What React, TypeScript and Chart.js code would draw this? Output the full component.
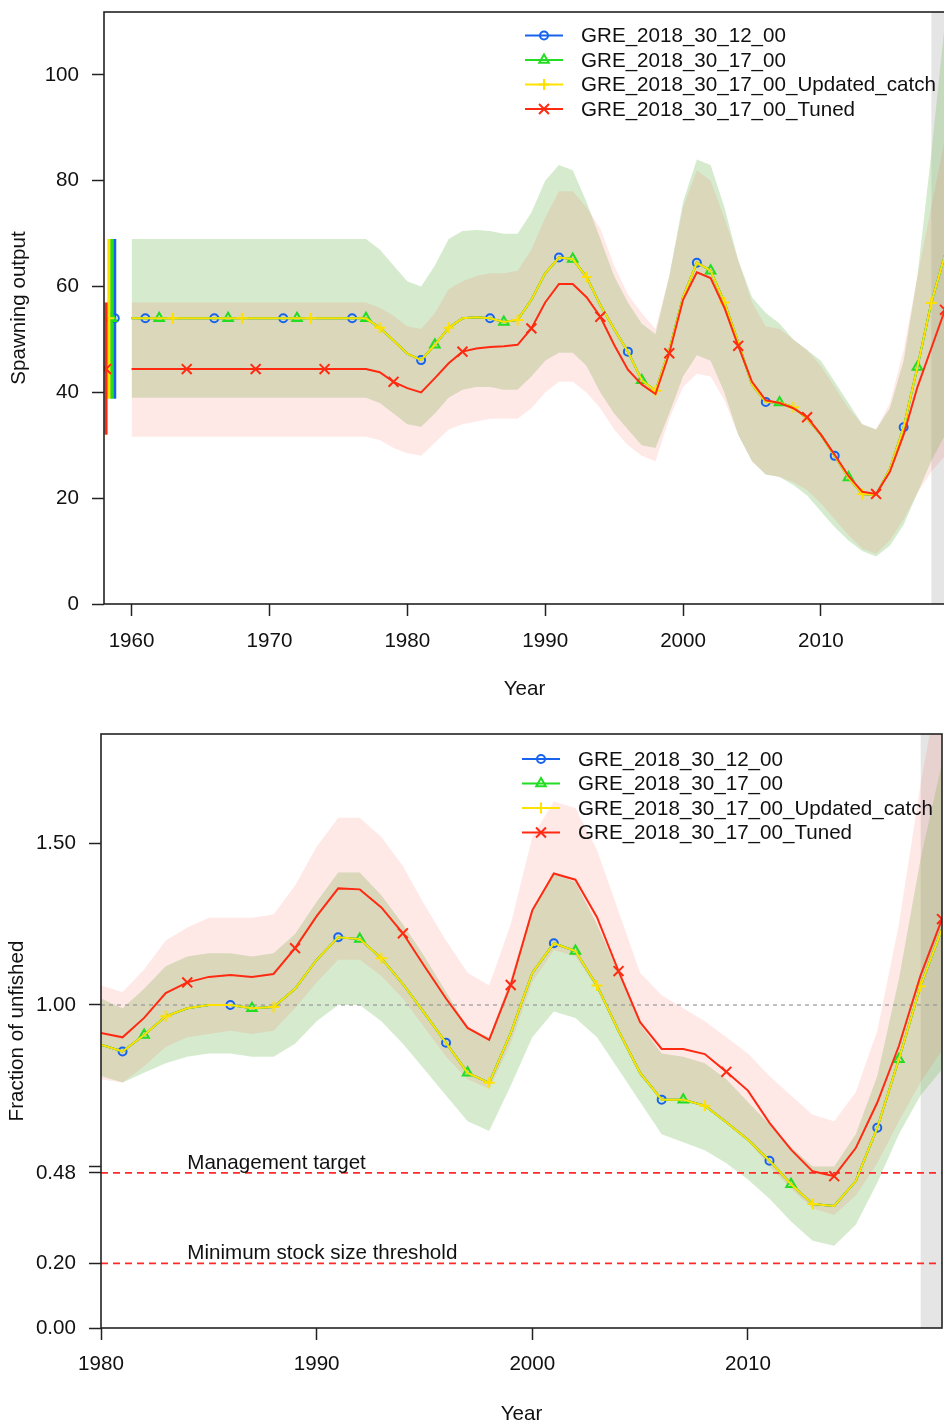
import React, { useEffect, useRef } from 'react';
import { Chart, registerables } from 'chart.js';

Chart.register(...registerables);

const FONT_FAMILY = '"Liberation Sans", Arial, Helvetica, sans-serif';
const FONT_SIZE = 20.6;
const TEXT_COLOR = '#111111';
const AXIS_COLOR = '#222222';

const SERIES_LABELS = [
  'GRE_2018_30_12_00',
  'GRE_2018_30_17_00',
  'GRE_2018_30_17_00_Updated_catch',
  'GRE_2018_30_17_00_Tuned',
];
const SERIES_COLORS = ['#1763ee', '#22dd22', '#ffe100', '#ff2a12'];
const SERIES_BANDS = ['rgba(23,99,238,0.1)', 'rgba(34,221,34,0.1)', 'rgba(255,225,0,0.1)', 'rgba(255,42,18,0.1)'];
const SERIES_MARKERS = ['circle', 'triangle', 'cross', 'crossRot'];
const MARKER_RADIUS = [4, 5.5, 5.5, 7];

// ---------------- Spawning output (top) ----------------
const spawnYears = [
  1960, 1961, 1962, 1963, 1964, 1965, 1966, 1967, 1968, 1969,
  1970, 1971, 1972, 1973, 1974, 1975, 1976, 1977, 1978, 1979,
  1980, 1981, 1982, 1983, 1984, 1985, 1986, 1987, 1988, 1989,
  1990, 1991, 1992, 1993, 1994, 1995, 1996, 1997, 1998, 1999,
  2000, 2001, 2002, 2003, 2004, 2005, 2006, 2007, 2008, 2009,
  2010, 2011, 2012, 2013, 2014, 2015, 2016, 2017, 2018, 2019,
];
const spawnBase = [
  54.0, 54.0, 54.0, 54.0, 54.0, 54.0, 54.0, 54.0, 54.0, 54.0,
  54.0, 54.0, 54.0, 54.0, 54.0, 54.0, 54.0, 54.0, 52.2, 49.8,
  47.3, 46.1, 49.0, 52.2, 54.0, 54.2, 54.0, 53.3, 53.7, 57.5,
  62.5, 65.5, 65.2, 61.8, 56.5, 52.0, 47.7, 42.3, 40.3, 48.0,
  58.0, 64.5, 63.0, 57.0, 49.5, 41.5, 38.2, 38.1, 37.2, 35.0,
  32.0, 28.0, 23.9, 20.8, 20.6, 25.5, 33.4, 44.8, 56.9, 66.0,
];
const spawnTuned = [
  44.4, 44.4, 44.4, 44.4, 44.4, 44.4, 44.4, 44.4, 44.4, 44.4,
  44.4, 44.4, 44.4, 44.4, 44.4, 44.4, 44.4, 44.4, 43.8, 42.0,
  40.8, 40.0, 42.7, 45.5, 47.7, 48.3, 48.6, 48.7, 49.0, 52.1,
  57.0, 60.5, 60.5, 58.0, 54.3, 49.0, 44.3, 41.5, 39.7, 47.4,
  57.5, 62.7, 61.6, 56.0, 48.8, 42.0, 38.5, 38.0, 37.0, 35.3,
  32.0, 28.2, 24.2, 21.2, 20.8, 25.0, 32.0, 41.0, 48.3, 55.6,
];
const spawnBaseLow = [
  39, 39, 39, 39, 39, 39, 39, 39, 39, 39,
  39, 39, 39, 39, 39, 39, 39, 39, 38, 36,
  34, 33.5, 36, 39, 40.5, 41, 41, 40.5, 40.5, 43,
  46, 47.5, 47.5, 45, 40, 36, 33, 30, 29.5, 36,
  43, 47, 46, 40, 32, 27, 24.5, 24, 22.5, 20.5,
  17.5, 14.5, 12, 10, 9, 11, 15, 21, 27, 32,
];
const spawnBaseHigh = [
  69, 69, 69, 69, 69, 69, 69, 69, 69, 69,
  69, 69, 69, 69, 69, 69, 69, 69, 67, 64,
  61, 60, 64, 69, 70.5, 70.7, 70.5, 70, 70, 74,
  80, 83, 82, 76, 69, 62, 57, 53, 51, 62,
  76, 84, 83, 75, 65, 58, 55, 53, 50, 48,
  46, 42, 38, 34, 33, 37, 46, 62, 85, 110,
];
const spawnTunedLow = [
  31.6, 31.6, 31.6, 31.6, 31.6, 31.6, 31.6, 31.6, 31.6, 31.6,
  31.6, 31.6, 31.6, 31.6, 31.6, 31.6, 31.6, 31.6, 31, 29.5,
  28.5, 28, 30.5, 33, 34, 34.5, 35, 35, 35, 37,
  40, 42, 42, 40, 37, 33, 30, 28, 27, 35,
  41, 43.5, 43, 38.5, 32, 27, 24.5, 24, 23, 21.5,
  19, 16, 13, 10.5, 9.5, 12, 16, 21, 25, 28,
];
const spawnTunedHigh = [
  57, 57, 57, 57, 57, 57, 57, 57, 57, 57,
  57, 57, 57, 57, 57, 57, 57, 57, 56, 54.5,
  52.5, 52, 55, 59.5, 61, 62, 62.5, 62.5, 63, 67,
  73, 78, 78, 75, 71, 64, 58.5, 55, 52, 62,
  75, 82, 80, 73, 65, 57, 52.5, 52, 50, 48,
  45, 41, 37, 34, 33, 38, 48, 62, 75, 88,
];
// Unfished (virgin) estimates with intervals, one per model (blue, green, yellow, red)
const virginX = [1958.78, 1958.55, 1958.35, 1958.15];
const virginValue = [54, 54, 54, 44.4];
const virginLow = [38.8, 38.8, 38.8, 32];
const virginHigh = [69, 69, 69, 57];
const spawnXTicks = [1960, 1970, 1980, 1990, 2000, 2010];
const spawnYTicks = [0, 20, 40, 60, 80, 100];
const spawnMarkerYears = [
  [1961, 1966, 1971, 1976, 1981, 1986, 1991, 1996, 2001, 2006, 2011, 2016],
  [1962, 1967, 1972, 1977, 1982, 1987, 1992, 1997, 2002, 2007, 2012, 2017],
  [1963, 1968, 1973, 1978, 1983, 1988, 1993, 1998, 2003, 2008, 2013, 2018],
  [1964, 1969, 1974, 1979, 1984, 1989, 1994, 1999, 2004, 2009, 2014, 2019],
];

// ---------------- Fraction of unfished (bottom) ----------------
const fracYears = [
  1980, 1981, 1982, 1983, 1984, 1985, 1986, 1987, 1988, 1989,
  1990, 1991, 1992, 1993, 1994, 1995, 1996, 1997, 1998, 1999,
  2000, 2001, 2002, 2003, 2004, 2005, 2006, 2007, 2008, 2009,
  2010, 2011, 2012, 2013, 2014, 2015, 2016, 2017, 2018, 2019,
];
const fracBase = [
  0.877, 0.856, 0.907, 0.965, 0.990, 1.000, 1.000, 0.990, 0.994, 1.050,
  1.140, 1.210, 1.204, 1.145, 1.065, 0.975, 0.883, 0.790, 0.759, 0.913,
  1.099, 1.191, 1.167, 1.060, 0.920, 0.790, 0.707, 0.707, 0.688, 0.637,
  0.583, 0.518, 0.445, 0.384, 0.378, 0.455, 0.620, 0.832, 1.058, 1.235,
];
const fracTuned = [
  0.913, 0.900, 0.960, 1.037, 1.070, 1.087, 1.093, 1.087, 1.096, 1.176,
  1.275, 1.361, 1.358, 1.302, 1.222, 1.120, 1.020, 0.929, 0.892, 1.062,
  1.293, 1.407, 1.388, 1.272, 1.105, 0.947, 0.864, 0.864, 0.848, 0.793,
  0.735, 0.635, 0.552, 0.485, 0.470, 0.557, 0.698, 0.873, 1.090, 1.266,
];
const fracBaseLow = [
  0.78, 0.76, 0.79, 0.82, 0.84, 0.85, 0.85, 0.84, 0.84, 0.88,
  0.95, 1.00, 1.00, 0.95, 0.88, 0.80, 0.72, 0.64, 0.61, 0.75,
  0.90, 0.98, 0.96, 0.90, 0.80, 0.70, 0.60, 0.575, 0.55, 0.51,
  0.46, 0.40, 0.33, 0.27, 0.255, 0.32, 0.45, 0.60, 0.72, 0.80,
];
const fracBaseHigh = [
  1.02, 0.99, 1.05, 1.12, 1.15, 1.16, 1.16, 1.15, 1.16, 1.22,
  1.32, 1.41, 1.41, 1.34, 1.25, 1.15, 1.04, 0.93, 0.90, 1.08,
  1.30, 1.41, 1.38, 1.25, 1.10, 0.94, 0.85, 0.84, 0.82, 0.77,
  0.70, 0.63, 0.56, 0.50, 0.50, 0.60, 0.78, 1.08, 1.45, 1.75,
];
const fracTunedLow = [
  0.77, 0.76, 0.81, 0.87, 0.90, 0.91, 0.92, 0.91, 0.92, 0.99,
  1.07, 1.14, 1.14, 1.09, 1.02, 0.93, 0.84, 0.77, 0.74, 0.88,
  1.07, 1.17, 1.15, 1.05, 0.91, 0.78, 0.71, 0.70, 0.69, 0.64,
  0.58, 0.50, 0.43, 0.37, 0.35, 0.41, 0.51, 0.64, 0.76, 0.86,
];
const fracTunedHigh = [
  1.06, 1.04, 1.11, 1.20, 1.24, 1.27, 1.27, 1.27, 1.28, 1.37,
  1.49, 1.58, 1.58, 1.52, 1.43, 1.31, 1.20, 1.10, 1.06, 1.25,
  1.52, 1.63, 1.61, 1.48, 1.29, 1.10, 1.03, 0.99, 0.95, 0.90,
  0.85, 0.78, 0.72, 0.66, 0.64, 0.73, 0.92, 1.25, 1.68, 2.05,
];
const fracXTicks = [1980, 1990, 2000, 2010];
const fracYTicks = [0, 0.2, 0.48, 0.5, 1.0, 1.5];
const fracYTickLabels = ['0.00', '0.20', '0.48', '', '1.00', '1.50'];
const fracMarkerYears = [
  [1981, 1986, 1991, 1996, 2001, 2006, 2011, 2016],
  [1982, 1987, 1992, 1997, 2002, 2007, 2012, 2017],
  [1983, 1988, 1993, 1998, 2003, 2008, 2013, 2018],
  [1984, 1989, 1994, 1999, 2004, 2009, 2014, 2019],
];
const managementTarget = 0.48;
const minStockThreshold = 0.2;
const unfishedLevel = 1.0;
const referenceLabels = ['Management target', 'Minimum stock size threshold'];
const referenceLabelYear = 1984;
const forecastYears = [2018, 2019];

// ---------------- helpers ----------------
const toPts = (xs: number[], ys: number[]) => xs.map((x, i) => ({ x, y: ys[i] }));

function bandPair(xs: number[], lo: number[], hi: number[], color: string, order: number) {
  return [
    {
      type: 'line', data: toPts(xs, hi), borderWidth: 0, borderColor: 'rgba(0,0,0,0)',
      pointRadius: 0, pointHoverRadius: 0, fill: '+1', backgroundColor: color, order, tension: 0,
    },
    {
      type: 'line', data: toPts(xs, lo), borderWidth: 0, borderColor: 'rgba(0,0,0,0)',
      pointRadius: 0, pointHoverRadius: 0, fill: false, order, tension: 0,
    },
  ];
}

function seriesDataset(xs: number[], ys: number[], idx: number, markers: number[], order: number) {
  return {
    type: 'line',
    data: toPts(xs, ys),
    borderColor: SERIES_COLORS[idx],
    borderWidth: 2,
    fill: false,
    tension: 0,
    pointStyle: SERIES_MARKERS[idx],
    pointRadius: xs.map((x) => (markers.includes(x) ? MARKER_RADIUS[idx] : 0)),
    pointHoverRadius: 0,
    pointBorderColor: SERIES_COLORS[idx],
    pointBackgroundColor: 'rgba(0,0,0,0)',
    pointBorderWidth: 2,
    order,
  };
}

function drawMarker(ctx: CanvasRenderingContext2D, style: string, x: number, y: number, r: number, color: string) {
  ctx.save();
  ctx.strokeStyle = color;
  ctx.lineWidth = 2;
  ctx.beginPath();
  if (style === 'circle') {
    ctx.arc(x, y, r, 0, Math.PI * 2);
  } else if (style === 'triangle') {
    let a = 0;
    ctx.moveTo(x + Math.sin(a) * r, y - Math.cos(a) * r);
    a += (2 * Math.PI) / 3;
    ctx.lineTo(x + Math.sin(a) * r, y - Math.cos(a) * r);
    a += (2 * Math.PI) / 3;
    ctx.lineTo(x + Math.sin(a) * r, y - Math.cos(a) * r);
    ctx.closePath();
  } else if (style === 'cross') {
    ctx.moveTo(x - r, y); ctx.lineTo(x + r, y);
    ctx.moveTo(x, y - r); ctx.lineTo(x, y + r);
  } else {
    const d = r * Math.SQRT1_2;
    ctx.moveTo(x - d, y - d); ctx.lineTo(x + d, y + d);
    ctx.moveTo(x - d, y + d); ctx.lineTo(x + d, y - d);
  }
  ctx.stroke();
  ctx.restore();
}

const framePlugin = {
  id: 'frame',
  afterDatasetsDraw(chart: any) {
    const { ctx, chartArea: a } = chart;
    ctx.save();
    ctx.strokeStyle = AXIS_COLOR;
    ctx.lineWidth = 1.6;
    ctx.strokeRect(a.left, a.top, a.right - a.left, a.bottom - a.top);
    ctx.restore();
  },
};

const legendPlugin = {
  id: 'rLegend',
  afterDraw(chart: any, _args: any, opts: any) {
    if (!opts || !opts.rows) return;
    const ctx = chart.ctx as CanvasRenderingContext2D;
    ctx.save();
    SERIES_LABELS.forEach((label, i) => {
      const y = opts.rows[i];
      ctx.strokeStyle = SERIES_COLORS[i];
      ctx.lineWidth = 2;
      ctx.beginPath();
      ctx.moveTo(opts.x0, y);
      ctx.lineTo(opts.x1, y);
      ctx.stroke();
      drawMarker(ctx, SERIES_MARKERS[i], (opts.x0 + opts.x1) / 2, y, MARKER_RADIUS[i], SERIES_COLORS[i]);
      ctx.fillStyle = TEXT_COLOR;
      ctx.font = `${FONT_SIZE}px ${FONT_FAMILY}`;
      ctx.textAlign = 'left';
      ctx.textBaseline = 'middle';
      ctx.fillText(label, opts.xText, y + 1);
    });
    ctx.restore();
  },
};

const refTextPlugin = {
  id: 'refText',
  afterDatasetsDraw(chart: any, _args: any, opts: any) {
    if (!opts || !opts.items) return;
    const ctx = chart.ctx as CanvasRenderingContext2D;
    const xs = chart.scales.x;
    const ys = chart.scales.y;
    ctx.save();
    ctx.fillStyle = TEXT_COLOR;
    ctx.font = `${FONT_SIZE}px ${FONT_FAMILY}`;
    ctx.textAlign = 'left';
    ctx.textBaseline = 'alphabetic';
    opts.items.forEach((it: any) => {
      ctx.fillText(it.text, xs.getPixelForValue(it.x), ys.getPixelForValue(it.y) - 4);
    });
    ctx.restore();
  },
};

function xAxis(ticks: number[], min: number, max: number, height: number, titleBottom: number, tickPad: number) {
  return {
    type: 'linear',
    min,
    max,
    afterBuildTicks: (s: any) => { s.ticks = ticks.map((v) => ({ value: v })); },
    afterFit: (s: any) => {
      s.height = height;
      s.paddingLeft = 0;
      s.paddingRight = 0;
      s.paddingTop = 0;
      s.paddingBottom = 0;
    },
    ticks: {
      autoSkip: false, maxRotation: 0, minRotation: 0, padding: tickPad, color: TEXT_COLOR,
      font: { family: FONT_FAMILY, size: FONT_SIZE },
      callback: (v: any) => String(v),
    },
    grid: { display: true, drawOnChartArea: false, drawTicks: true, tickLength: 12, color: AXIS_COLOR, tickColor: AXIS_COLOR, tickWidth: 1.5 },
    border: { display: false },
    title: { display: true, text: 'Year', color: TEXT_COLOR, font: { family: FONT_FAMILY, size: FONT_SIZE }, padding: { top: 0, bottom: titleBottom } },
  };
}

function yAxis(ticks: number[], labels: string[], max: number, width: number, title: string, titleTop: number) {
  return {
    type: 'linear',
    min: 0,
    max,
    afterBuildTicks: (s: any) => { s.ticks = ticks.map((v) => ({ value: v })); },
    afterFit: (s: any) => {
      s.width = width;
      s.paddingLeft = 0;
      s.paddingRight = 0;
      s.paddingTop = 0;
      s.paddingBottom = 0;
    },
    ticks: {
      autoSkip: false, padding: 13, color: TEXT_COLOR,
      font: { family: FONT_FAMILY, size: FONT_SIZE },
      callback: (v: any) => { const i = ticks.indexOf(v); return i >= 0 ? labels[i] : ''; },
    },
    grid: { display: true, drawOnChartArea: false, drawTicks: true, tickLength: 12, color: AXIS_COLOR, tickColor: AXIS_COLOR, tickWidth: 1.5 },
    border: { display: false },
    title: { display: true, text: title, color: TEXT_COLOR, font: { family: FONT_FAMILY, size: FONT_SIZE }, padding: { top: titleTop, bottom: 0 } },
  };
}

const SPAWN_YMAX = 111.9;
const FRAC_YMAX = 1.839;
const FORECAST_FILL = 'rgba(150,150,150,0.25)';

function buildSpawnConfig(): any {
  const datasets: any[] = [];
  datasets.push({
    type: 'line', data: forecastYears.map((x) => ({ x, y: SPAWN_YMAX })), borderWidth: 0,
    borderColor: 'rgba(0,0,0,0)', pointRadius: 0, fill: 'start', backgroundColor: FORECAST_FILL, order: 30,
  });
  datasets.push(...bandPair(spawnYears, spawnBaseLow, spawnBaseHigh, SERIES_BANDS[0], 20));
  datasets.push(...bandPair(spawnYears, spawnBaseLow, spawnBaseHigh, SERIES_BANDS[1], 19));
  datasets.push(...bandPair(spawnYears, spawnBaseLow, spawnBaseHigh, SERIES_BANDS[2], 18));
  datasets.push(...bandPair(spawnYears, spawnTunedLow, spawnTunedHigh, SERIES_BANDS[3], 17));
  [3, 2, 1, 0].forEach((i) => {
    datasets.push({
      type: 'line',
      data: [
        { x: virginX[i], y: virginLow[i] },
        { x: virginX[i], y: virginValue[i] },
        { x: virginX[i], y: virginHigh[i] },
      ],
      borderColor: SERIES_COLORS[i], borderWidth: 3, fill: false,
      pointStyle: SERIES_MARKERS[i], pointRadius: [0, MARKER_RADIUS[i], 0], pointHoverRadius: 0,
      pointBorderColor: SERIES_COLORS[i], pointBackgroundColor: 'rgba(0,0,0,0)', pointBorderWidth: 2,
      order: 8 - i,
    });
  });
  datasets.push(seriesDataset(spawnYears, spawnBase, 0, spawnMarkerYears[0], 4));
  datasets.push(seriesDataset(spawnYears, spawnBase, 1, spawnMarkerYears[1], 3));
  datasets.push(seriesDataset(spawnYears, spawnBase, 2, spawnMarkerYears[2], 2));
  datasets.push(seriesDataset(spawnYears, spawnTuned, 3, spawnMarkerYears[3], 1));
  return {
    type: 'line',
    data: { datasets },
    options: {
      responsive: false,
      maintainAspectRatio: false,
      animation: false,
      devicePixelRatio: 1,
      layout: { autoPadding: false, padding: { left: 0, right: 5, top: 12, bottom: 0 } },
      plugins: {
        legend: { display: false },
        tooltip: { enabled: false },
        rLegend: { x0: 525, x1: 563, xText: 581, rows: [35.5, 60, 84.5, 109] },
      },
      scales: {
        x: xAxis(spawnXTicks, 1958, 2019, 111, 13, 13),
        y: yAxis(spawnYTicks, spawnYTicks.map(String), SPAWN_YMAX, 104, 'Spawning output', 7),
      },
    },
    plugins: [framePlugin, legendPlugin],
  };
}

function buildFracConfig(): any {
  const datasets: any[] = [];
  datasets.push({
    type: 'line', data: forecastYears.map((x) => ({ x, y: FRAC_YMAX })), borderWidth: 0,
    borderColor: 'rgba(0,0,0,0)', pointRadius: 0, fill: 'start', backgroundColor: FORECAST_FILL, order: 30,
  });
  datasets.push(...bandPair(fracYears, fracBaseLow, fracBaseHigh, SERIES_BANDS[0], 20));
  datasets.push(...bandPair(fracYears, fracBaseLow, fracBaseHigh, SERIES_BANDS[1], 19));
  datasets.push(...bandPair(fracYears, fracBaseLow, fracBaseHigh, SERIES_BANDS[2], 18));
  datasets.push(...bandPair(fracYears, fracTunedLow, fracTunedHigh, SERIES_BANDS[3], 17));
  const span = [fracYears[0], forecastYears[1]];
  datasets.push({
    type: 'line', data: span.map((x) => ({ x, y: unfishedLevel })), borderColor: 'rgba(150,150,150,0.8)',
    borderWidth: 1.5, borderDash: [4, 4], pointRadius: 0, fill: false, order: 9,
  });
  datasets.push({
    type: 'line', data: span.map((x) => ({ x, y: managementTarget })), borderColor: '#ff2a2a',
    borderWidth: 1.8, borderDash: [7, 5], pointRadius: 0, fill: false, order: 8,
  });
  datasets.push({
    type: 'line', data: span.map((x) => ({ x, y: minStockThreshold })), borderColor: '#ff2a2a',
    borderWidth: 1.8, borderDash: [7, 5], pointRadius: 0, fill: false, order: 8,
  });
  datasets.push(seriesDataset(fracYears, fracBase, 0, fracMarkerYears[0], 4));
  datasets.push(seriesDataset(fracYears, fracBase, 1, fracMarkerYears[1], 3));
  datasets.push(seriesDataset(fracYears, fracBase, 2, fracMarkerYears[2], 2));
  datasets.push(seriesDataset(fracYears, fracTuned, 3, fracMarkerYears[3], 1));
  return {
    type: 'line',
    data: { datasets },
    options: {
      responsive: false,
      maintainAspectRatio: false,
      animation: false,
      devicePixelRatio: 1,
      layout: { autoPadding: false, padding: { left: 0, right: 2, top: 14, bottom: 0 } },
      plugins: {
        legend: { display: false },
        tooltip: { enabled: false },
        rLegend: { x0: 522, x1: 560, xText: 578, rows: [39, 63.5, 88, 112.5] },
        refText: {
          items: [
            { text: referenceLabels[0], x: referenceLabelYear, y: managementTarget },
            { text: referenceLabels[1], x: referenceLabelYear, y: minStockThreshold },
          ],
        },
      },
      scales: {
        x: xAxis(fracXTicks, 1980, 2019, 99, 0, 12),
        y: yAxis(fracYTicks, fracYTickLabels, FRAC_YMAX, 101, 'Fraction of unfished', 5),
      },
    },
    plugins: [framePlugin, legendPlugin, refTextPlugin],
  };
}

function ChartCanvas({ build, width, height, top }: { build: () => any; width: number; height: number; top: number }) {
  const ref = useRef<HTMLCanvasElement | null>(null);
  useEffect(() => {
    if (!ref.current) return;
    const chart = new Chart(ref.current, build());
    return () => chart.destroy();
  }, [build]);
  return (
    <canvas
      ref={ref}
      width={width}
      height={height}
      style={{ position: 'absolute', left: 0, top, width, height, display: 'block' }}
    />
  );
}

export default function App() {
  return (
    <div
      style={{
        position: 'absolute', left: 0, top: 0, width: 944, height: 1427,
        overflow: 'hidden', background: '#ffffff',
      }}
    >
      <ChartCanvas build={buildSpawnConfig} width={950} height={715} top={0} />
      <ChartCanvas build={buildFracConfig} width={944} height={707} top={720} />
    </div>
  );
}
